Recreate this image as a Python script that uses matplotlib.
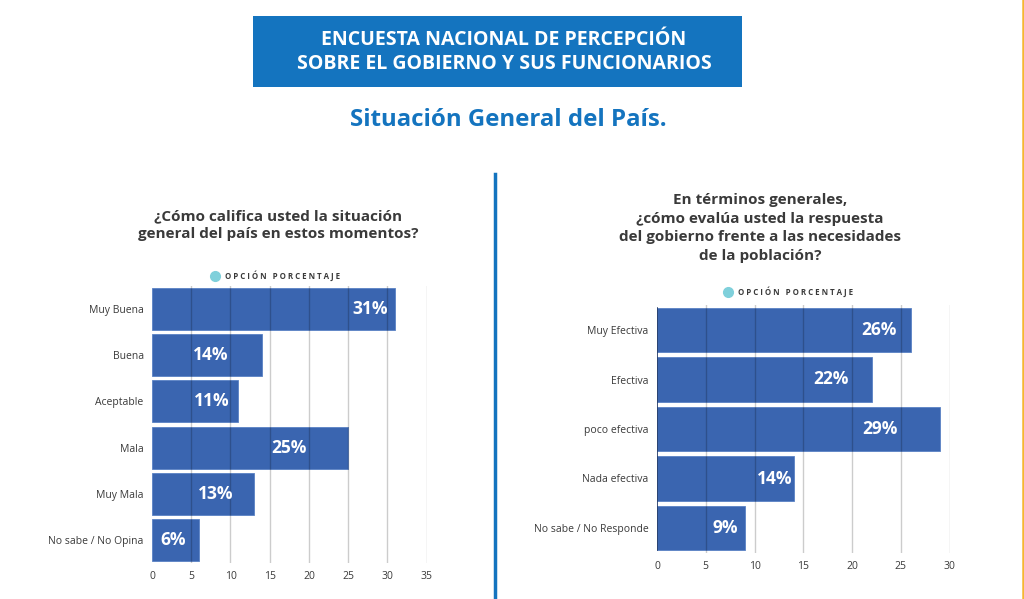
import matplotlib
matplotlib.use("Agg")
import matplotlib.pyplot as plt
from matplotlib.patches import Rectangle
from matplotlib.lines import Line2D

plt.rcParams['font.family'] = ['Open Sans', 'DejaVu Sans']

# ---- data ----
left_categories = ["Muy Buena", "Buena", "Aceptable", "Mala", "Muy Mala", "No sabe / No Opina"]
left_values = [31, 14, 11, 25, 13, 6]
left_ticks = [0, 5, 10, 15, 20, 25, 30, 35]

right_categories = ["Muy Efectiva", "Efectiva", "poco efectiva", "Nada efectiva", "No sabe / No Responde"]
right_values = [26, 22, 29, 14, 9]
right_ticks = [0, 5, 10, 15, 20, 25, 30]

# layout: where value labels sit (data units, label centre)
left_label_pos = [27.8, 7.5, 7.6, 17.5, 8.1, 2.7]
right_label_pos = [22.8, 17.8, 22.9, 12.1, 7.0]

BAR = "#3a65b0"
BLUE = "#1474bf"
TXT = "#3a3a3a"

W, H = 1024, 599
fig = plt.figure(figsize=(W / 100, H / 100), dpi=100)
fig.patch.set_facecolor("white")

def px(x, y):
    return x / W, 1 - y / H

# header box
x0, y0 = px(253, 87)
fig.patches.append(Rectangle((x0, y0), (742 - 253) / W, (87 - 16) / H,
                             transform=fig.transFigure, facecolor=BLUE, edgecolor="none"))
fig.text(*px(504, 40), "ENCUESTA NACIONAL DE PERCEPCIÓN", color="white", fontsize=14,
         fontweight="bold", ha="center", va="center")
fig.text(*px(504, 64), "SOBRE EL GOBIERNO Y SUS FUNCIONARIOS", color="white", fontsize=14,
         fontweight="bold", ha="center", va="center")
fig.text(*px(508, 120), "Situación General del País.", color=BLUE, fontsize=17.3,
         fontweight="bold", ha="center", va="center")

# divider and right border
fig.add_artist(Line2D([495 / W, 495 / W], [1 - 174 / H, 0], transform=fig.transFigure,
                      color=BLUE, linewidth=2.5))
fig.add_artist(Line2D([1022.5 / W, 1022.5 / W], [0, 1], transform=fig.transFigure,
                      color="#f5b731", linewidth=1.8))

# question titles
fig.text(*px(278, 225), "¿Cómo califica usted la situación\ngeneral del país en estos momentos?",
         color=TXT, fontsize=11, fontweight="bold", ha="center", va="center", linespacing=1.4)
fig.text(*px(760, 228), "En términos generales,\n¿cómo evalúa usted la respuesta\ndel gobierno frente a las necesidades\nde la población?",
         color=TXT, fontsize=11, fontweight="bold", ha="center", va="center", linespacing=1.4)


def draw(rect, cats, vals, ticks, label_pos, height_frac, left_spine, legend_xy):
    ax = fig.add_axes(rect)
    n = len(cats)
    ys = list(range(n))
    ax.barh(ys, vals, height=height_frac, color=BAR, edgecolor="#5a82c4", linewidth=0.6, zorder=2)
    for t in ticks:
        if t == 0:
            continue
        ax.axvline(t, color="black", alpha=0.2, linewidth=1, zorder=3)
    ax.set_xlim(ticks[0], ticks[-1] + 0.05)
    ax.set_ylim(n - 0.5, -0.5)
    ax.set_yticks(ys)
    ax.set_yticklabels(cats, fontsize=7.5, color=TXT)
    ax.set_xticks(ticks)
    ax.set_xticklabels([str(t) for t in ticks], fontsize=7.5, color=TXT)
    ax.tick_params(length=0, pad=6)
    for s in ax.spines.values():
        s.set_visible(False)
    if left_spine:
        ax.plot([0, 0], [n - 1 + height_frac / 2, -height_frac / 2], color="#1f3561",
                linewidth=1.2, zorder=4)
    for y, v, lp in zip(ys, vals, label_pos):
        ax.text(lp, y, f"{v}%", color="white", fontsize=12.5, fontweight="bold",
                ha="center", va="center", zorder=5)
    lx, ly = legend_xy
    fig.add_artist(Line2D([lx / W], [1 - ly / H], marker="o", markersize=7,
                          color="#7fd0db", linestyle="none", transform=fig.transFigure))
    fig.text((lx + 10) / W, 1 - ly / H, "O P C I Ó N   P O R C E N T A J E", fontsize=5.7,
             color=TXT, ha="left", va="center", fontweight="bold")
    return ax

draw([152 / W, 1 - 563 / H, (427 - 152) / W, 277 / H], left_categories, left_values,
     left_ticks, left_label_pos, 0.91, False, (215, 276))
draw([657 / W, 1 - 552.75 / H, (950 - 657) / W, 247.5 / H], right_categories, right_values,
     right_ticks, right_label_pos, 0.89, True, (728, 292))

fig.savefig("out.png", dpi=100, facecolor="white")
